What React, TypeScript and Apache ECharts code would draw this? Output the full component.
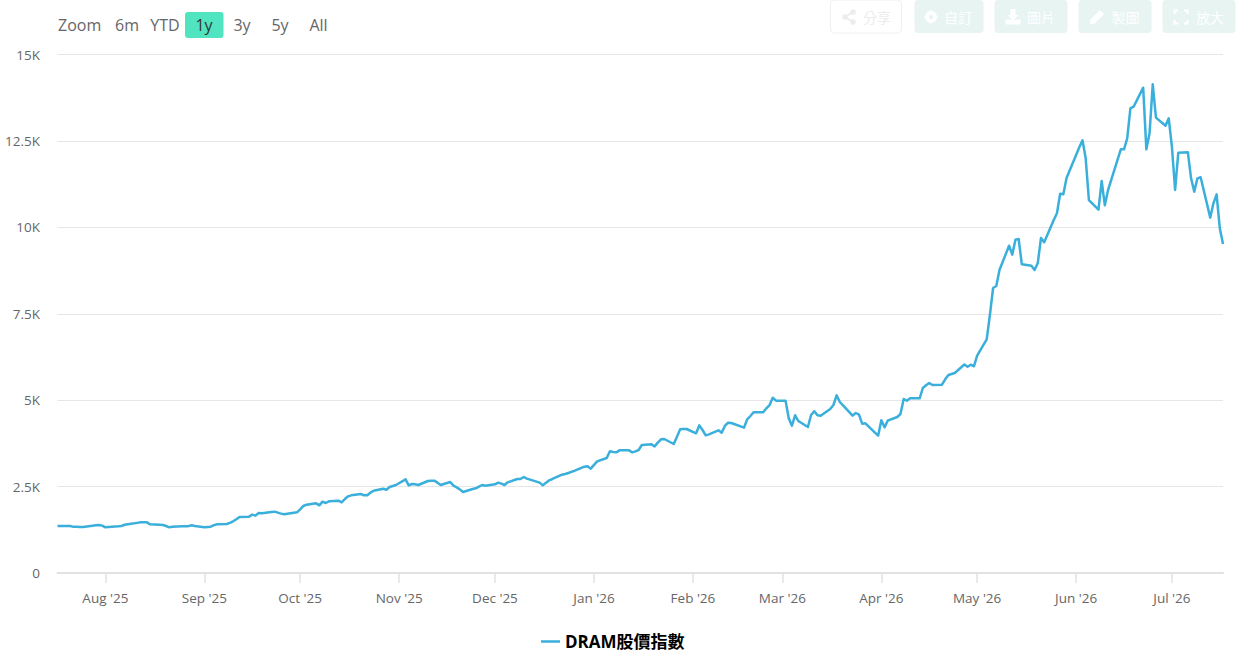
import React, { useEffect, useRef } from "react";
import * as echarts from "echarts";

const seriesName = "DRAM股價指數";
const axisStart = "2025-07-17";
const axisEnd = "2026-07-17";
const tickDates = ["2025-08-01","2025-09-01","2025-10-01","2025-11-01","2025-12-01","2026-01-01","2026-02-01","2026-03-01","2026-04-01","2026-05-01","2026-06-01","2026-07-01"];
const tickLabels = ["Aug '25","Sep '25","Oct '25","Nov '25","Dec '25","Jan '26","Feb '26","Mar '26","Apr '26","May '26","Jun '26","Jul '26"];
const yTicks = [0, 2500, 5000, 7500, 10000, 12500, 15000];
const yLabels = ["0", "2.5K", "5K", "7.5K", "10K", "12.5K", "15K"];
const rangeLabels = ["6m", "YTD", "1y", "3y", "5y", "All"];
const toolLabels = ["分享", "自訂", "圖片", "製圖", "放大"];

const dates = [
"2025-07-17","2025-07-18","2025-07-21","2025-07-22","2025-07-23","2025-07-24","2025-07-25","2025-07-28","2025-07-29","2025-07-30","2025-07-31",
"2025-08-01","2025-08-04","2025-08-05","2025-08-06","2025-08-07","2025-08-08","2025-08-11","2025-08-12","2025-08-13","2025-08-14","2025-08-15","2025-08-18","2025-08-19","2025-08-20","2025-08-21","2025-08-22","2025-08-25","2025-08-26","2025-08-27","2025-08-28","2025-08-29",
"2025-09-01","2025-09-02","2025-09-03","2025-09-04","2025-09-05","2025-09-08","2025-09-09","2025-09-10","2025-09-11","2025-09-12","2025-09-15","2025-09-16","2025-09-17","2025-09-18","2025-09-19","2025-09-22","2025-09-23","2025-09-24","2025-09-25","2025-09-26","2025-09-29","2025-09-30",
"2025-10-01","2025-10-02","2025-10-03","2025-10-06","2025-10-07","2025-10-08","2025-10-09","2025-10-10","2025-10-13","2025-10-14","2025-10-15","2025-10-16","2025-10-17","2025-10-20","2025-10-21","2025-10-22","2025-10-23","2025-10-24","2025-10-27","2025-10-28","2025-10-29","2025-10-30","2025-10-31",
"2025-11-03","2025-11-04","2025-11-05","2025-11-06","2025-11-07","2025-11-10","2025-11-11","2025-11-12","2025-11-13","2025-11-14","2025-11-17","2025-11-18","2025-11-19","2025-11-20","2025-11-21","2025-11-24","2025-11-25","2025-11-26","2025-11-27","2025-11-28",
"2025-12-01","2025-12-02","2025-12-03","2025-12-04","2025-12-05","2025-12-08","2025-12-09","2025-12-10","2025-12-11","2025-12-12","2025-12-15","2025-12-16","2025-12-17","2025-12-18","2025-12-19","2025-12-22","2025-12-23","2025-12-24","2025-12-26","2025-12-29","2025-12-30","2025-12-31",
"2026-01-02","2026-01-05","2026-01-06","2026-01-07","2026-01-08","2026-01-09","2026-01-12","2026-01-13","2026-01-14","2026-01-15","2026-01-16","2026-01-19","2026-01-20","2026-01-21","2026-01-22","2026-01-23","2026-01-26","2026-01-27","2026-01-28","2026-01-29","2026-01-30",
"2026-02-02","2026-02-03","2026-02-04","2026-02-05","2026-02-06","2026-02-09","2026-02-10","2026-02-11","2026-02-12","2026-02-13","2026-02-17","2026-02-18","2026-02-19","2026-02-20","2026-02-23","2026-02-24","2026-02-25","2026-02-26","2026-02-27",
"2026-03-02","2026-03-03","2026-03-04","2026-03-05","2026-03-06","2026-03-09","2026-03-10","2026-03-11","2026-03-12","2026-03-13","2026-03-16","2026-03-17","2026-03-18","2026-03-19","2026-03-20","2026-03-23","2026-03-24","2026-03-25","2026-03-26","2026-03-27","2026-03-30","2026-03-31",
"2026-04-01","2026-04-02","2026-04-03","2026-04-06","2026-04-07","2026-04-08","2026-04-09","2026-04-10","2026-04-13","2026-04-14","2026-04-15","2026-04-16","2026-04-17","2026-04-20","2026-04-21","2026-04-22","2026-04-23","2026-04-24","2026-04-27","2026-04-28","2026-04-29","2026-04-30",
"2026-05-01","2026-05-04","2026-05-05","2026-05-06","2026-05-07","2026-05-08","2026-05-11","2026-05-12","2026-05-13","2026-05-14","2026-05-15","2026-05-18","2026-05-19","2026-05-20","2026-05-21","2026-05-22","2026-05-25","2026-05-26","2026-05-27","2026-05-28","2026-05-29",
"2026-06-01","2026-06-02","2026-06-03","2026-06-04","2026-06-05","2026-06-08","2026-06-09","2026-06-10","2026-06-11","2026-06-12","2026-06-15","2026-06-16","2026-06-17","2026-06-18","2026-06-19","2026-06-22","2026-06-23","2026-06-24","2026-06-25","2026-06-26","2026-06-29","2026-06-30",
"2026-07-01","2026-07-02","2026-07-03","2026-07-06","2026-07-07","2026-07-08","2026-07-09","2026-07-10","2026-07-13","2026-07-14","2026-07-15","2026-07-16","2026-07-17",
];

const values = [
1360,1360,1360,1335,1335,1331,1331,1369,1380,1389,1370,
1321,1345,1350,1360,1395,1408,1450,1466,1466,1466,1408,1398,1390,1360,1321,1335,1350,1350,1355,1379,1360,
1321,1330,1340,1385,1408,1418,1450,1495,1555,1620,1630,1688,1659,1736,1726,1765,1775,1746,1717,1697,1746,1755,
1842,1939,1977,2015,1958,2064,2025,2073,2092,2044,2141,2218,2247,2285,2247,2247,2324,2381,2439,2410,2488,2517,2546,
2710,2536,2575,2565,2546,2662,2671,2671,2614,2546,2633,2526,2478,2420,2343,2430,2449,2497,2546,2526,
2565,2614,2584,2546,2623,2720,2720,2777,2729,2700,2614,2536,2614,2681,2720,2845,2864,2893,2960,3076,3086,3018,
3230,3327,3520,3500,3491,3549,3549,3491,3520,3558,3703,3722,3664,3771,3867,3877,3732,3944,4157,4166,4166,
4041,4272,4137,3983,4012,4128,4060,4253,4349,4340,4205,4446,4542,4649,4649,4765,4860,5072,4986,
4986,4475,4263,4562,4397,4224,4571,4678,4562,4552,4745,4860,5140,4947,4850,4552,4629,4581,4320,4330,4060,3973,
4417,4214,4407,4513,4600,5034,4986,5053,5053,5352,5430,5497,5439,5449,5603,5728,5757,5786,6030,5968,6026,5980,
6287,6761,7464,8245,8303,8766,9469,9209,9643,9663,8930,8891,8766,8968,9692,9567,10212,10406,10973,10955,11427,
12093,12315,12518,11997,10790,10510,11340,10637,11080,11370,12257,12257,12575,13443,13490,14040,12257,12720,14138,13173,12941,13154,
12333,11080,12160,12170,11418,11032,11418,11447,10280,10695,10955,9972,9518,
];

const FONT = '"Open Sans", "Noto Sans CJK TC", sans-serif';
const ts = (s: string) => Date.parse(s + "T00:00:00Z");

const btnBoxes = [[830, 71], [914, 69], [994, 73], [1078, 73], [1162, 73]];
const iconOffsets = [19, 17, 19, 19, 19];
const textOffsets = [47, 44, 47, 47.5, 48];
const rangeCenters = [127, 165, 204, 242, 280, 318.5];

function icon(i: number, cx: number) {
  const fill = i === 0 ? "#ececec" : "#ffffff";
  const cy = 17;
  if (i === 0) {
    return [
      { type: "line", shape: { x1: cx - 4, y1: cy, x2: cx + 4, y2: cy - 5 }, style: { stroke: fill, lineWidth: 2 } },
      { type: "line", shape: { x1: cx - 4, y1: cy, x2: cx + 4, y2: cy + 5 }, style: { stroke: fill, lineWidth: 2 } },
      { type: "circle", shape: { cx: cx - 4, cy, r: 2.8 }, style: { fill } },
      { type: "circle", shape: { cx: cx + 4, cy: cy - 5, r: 2.8 }, style: { fill } },
      { type: "circle", shape: { cx: cx + 4, cy: cy + 5, r: 2.8 }, style: { fill } },
    ];
  }
  if (i === 1) {
    return [
      { type: "ring", shape: { cx, cy, r: 6, r0: 2.2 }, style: { fill } },
      { type: "line", shape: { x1: cx - 6.5, y1: cy, x2: cx - 3, y2: cy }, style: { stroke: fill, lineWidth: 2.4 } },
      { type: "line", shape: { x1: cx + 3, y1: cy, x2: cx + 6.5, y2: cy }, style: { stroke: fill, lineWidth: 2.4 } },
      { type: "line", shape: { x1: cx, y1: cy - 6.5, x2: cx, y2: cy - 3 }, style: { stroke: fill, lineWidth: 2.4 } },
      { type: "line", shape: { x1: cx, y1: cy + 3, x2: cx, y2: cy + 6.5 }, style: { stroke: fill, lineWidth: 2.4 } },
    ];
  }
  if (i === 2) {
    return [
      { type: "polygon", shape: { points: [[cx - 2.5, cy - 8], [cx + 2.5, cy - 8], [cx + 2.5, cy - 2], [cx + 5.5, cy - 2], [cx, cy + 3.5], [cx - 5.5, cy - 2], [cx - 2.5, cy - 2]] }, style: { fill } },
      { type: "rect", shape: { x: cx - 7.5, y: cy + 2.5, width: 15, height: 5 }, style: { fill } },
    ];
  }
  if (i === 3) {
    return [
      { type: "polygon", shape: { points: [[cx - 7, cy + 7], [cx - 6.5, cy + 2.5], [cx + 3, cy - 7], [cx + 7, cy - 3], [cx - 2.5, cy + 6.5]] }, style: { fill } },
    ];
  }
  const r = 6.5;
  const c = 3.5;
  const corner = (sx: number, sy: number) => ({
    type: "polyline",
    shape: { points: [[cx + sx * r, cy + sy * (r - c)], [cx + sx * r, cy + sy * r], [cx + sx * (r - c), cy + sy * r]] },
    style: { stroke: fill, lineWidth: 2, fill: "none" },
  });
  return [corner(-1, -1), corner(1, -1), corner(-1, 1), corner(1, 1)];
}

export default function App() {
  const ref = useRef<HTMLDivElement>(null);
  useEffect(() => {
    const chart = echarts.init(ref.current!, undefined, { renderer: "svg" });
    const elements: any[] = [];
    elements.push({
      type: "text", x: 58, y: 25,
      style: { text: "Zoom", font: `16px ${FONT}`, fill: "#666666", textVerticalAlign: "middle" },
    });
    elements.push({
      type: "rect", shape: { x: 185, y: 12, width: 38.5, height: 26, r: 3 },
      style: { fill: "#50E4C0" },
    });
    rangeLabels.forEach((t, i) => {
      elements.push({
        type: "text", x: rangeCenters[i], y: 25,
        style: { text: t, font: `16px ${FONT}`, fill: t === "1y" ? "#333333" : "#666666", textAlign: "center", textVerticalAlign: "middle" },
      });
    });
    toolLabels.forEach((t, i) => {
      const [x, w] = btnBoxes[i];
      elements.push({
        type: "rect", shape: { x: x + 0.5, y: 0, width: w, height: 33, r: 4 },
        style: i === 0 ? { fill: "#ffffff", stroke: "#f0f0f0", lineWidth: 1 } : { fill: "#E8F4F2" },
      });
      icon(i, x + iconOffsets[i]).forEach((e: any) => elements.push(e));
      elements.push({
        type: "text", x: x + textOffsets[i], y: 17,
        style: { text: t, font: `14px "Noto Sans CJK TC", sans-serif`, fill: i === 0 ? "#ececec" : "#ffffff", textAlign: "center", textVerticalAlign: "middle" },
      });
    });

    const tickValues = tickDates.map(ts);
    chart.setOption({
      animation: false,
      backgroundColor: "#ffffff",
      textStyle: { fontFamily: FONT },
      grid: { left: 57.5, right: 19, top: 54.5, bottom: 90, containLabel: false },
      legend: {
        show: true,
        left: 536,
        top: 628,
        data: [{ name: seriesName, icon: "rect" }],
        itemWidth: 19,
        itemHeight: 2.5,
        itemGap: 7,
        textStyle: { color: "#000000", fontSize: 17, fontWeight: "bold", fontFamily: FONT },
      },
      xAxis: {
        type: "value",
        min: ts(axisStart),
        max: ts(axisEnd),
        splitLine: { show: false },
        axisLine: { show: true, lineStyle: { color: "#E2E2E2", width: 2 } },
        axisTick: { show: true, length: 10, lineStyle: { color: "#E2E2E2", width: 1.5 }, customValues: tickValues },
        axisLabel: {
          color: "#666666",
          fontSize: 13.5,
          fontFamily: FONT,
          margin: 18,
          customValues: tickValues,
          formatter: (v: number) => {
            const i = tickValues.indexOf(v);
            return i >= 0 ? tickLabels[i] : "";
          },
        },
      },
      yAxis: {
        type: "value",
        min: yTicks[0],
        max: yTicks[yTicks.length - 1],
        interval: 2500,
        axisLine: { show: false },
        axisTick: { show: false },
        splitLine: { show: true, lineStyle: { color: "#E6E6E6", width: 1 } },
        axisLabel: {
          color: "#666666",
          fontSize: 13.5,
          fontFamily: FONT,
          margin: 17.5,
          padding: [0, 0, 5, 0],
          formatter: (v: number) => yLabels[yTicks.indexOf(v)] ?? "",
        },
      },
      series: [
        {
          name: seriesName,
          type: "line",
          symbol: "none",
          smooth: false,
          itemStyle: { color: "#3AAFDB" },
          lineStyle: { color: "#3AAFDB", width: 2.5, join: "round" },
          data: dates.map((d, i) => [ts(d), values[i]]),
        },
      ],
      graphic: { elements },
    });
    return () => chart.dispose();
  }, []);
  return <div ref={ref} style={{ position: "fixed", left: 0, top: 0, width: 1242, height: 663 }} />;
}
